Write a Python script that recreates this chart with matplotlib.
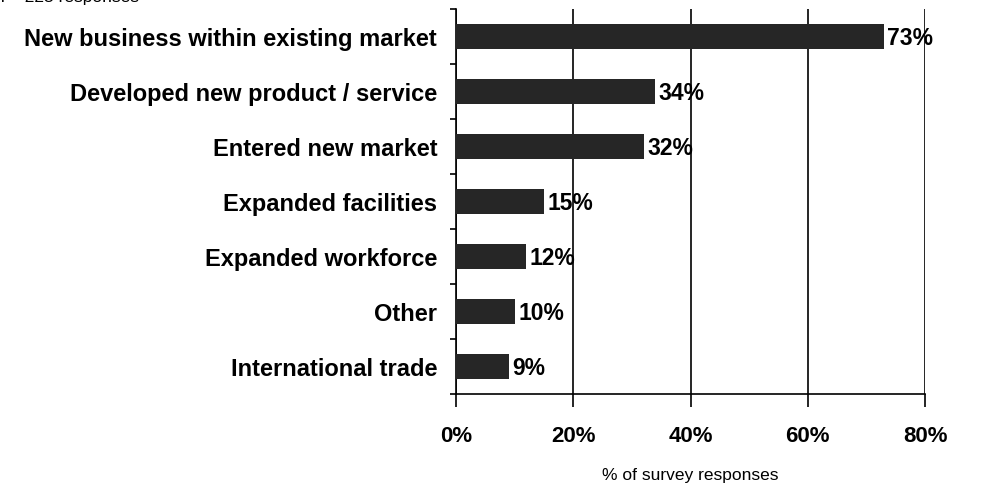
import matplotlib.pyplot as plt
import matplotlib.transforms as mtransforms
import numpy as np

plt.rcParams['font.family'] = ['Liberation Sans', 'DejaVu Sans']

categories = [
    "New business within existing market",
    "Developed new product / service",
    "Entered new market",
    "Expanded facilities",
    "Expanded workforce",
    "Other",
    "International trade",
]
shares = [73, 34, 32, 15, 12, 10, 9]
x_ticks = [0, 20, 40, 60, 80]
tick_labels = ["0%", "20%", "40%", "60%", "80%"]

fig = plt.figure(figsize=(9.88, 4.84), dpi=100)
ax = fig.add_axes([456 / 988, 1 - 394 / 484, 469 / 988, 385 / 484])

pos = np.arange(len(categories))
ax.barh(pos, shares, height=0.46, color="#262626", zorder=3)
for p, v in zip(pos, shares):
    ax.text(v + 0.6, p + 0.04, f"{v}%", va="center", ha="left",
            fontsize=16.5, fontweight="bold", zorder=4)

ax.set_xlim(0, 80)
ax.set_ylim(len(categories) - 0.5, -0.5)

# tick marks sit on the category boundaries; names are placed separately
ax.set_yticks(np.arange(len(categories) + 1) - 0.5)
ax.set_yticklabels([])
ax.tick_params(axis="y", length=4, width=1.2, direction="out")
name_tr = mtransforms.blended_transform_factory(ax.transAxes, ax.transData)
for p, name in zip(pos, categories):
    ax.text(-0.04, p + 0.05, name, transform=name_tr, ha="right", va="center",
            fontsize=17, fontweight="bold")

ax.set_xticks(x_ticks)
ax.set_xticklabels(tick_labels, fontsize=16, fontweight="bold")
ax.tick_params(axis="x", length=9, width=1.2, direction="out", pad=14)
ax.xaxis.grid(True, color="black", linewidth=1.2, zorder=1)

for s in ["top", "right"]:
    ax.spines[s].set_visible(False)
for s in ["left", "bottom"]:
    ax.spines[s].set_linewidth(1.2)

ax.set_xlabel("% of survey responses", fontsize=12.5, labelpad=15)

fig.text(-0.0046, 0.996, "n = 225 responses", fontsize=12.5, va="baseline", ha="left")

fig.savefig("out.png", dpi=100)
